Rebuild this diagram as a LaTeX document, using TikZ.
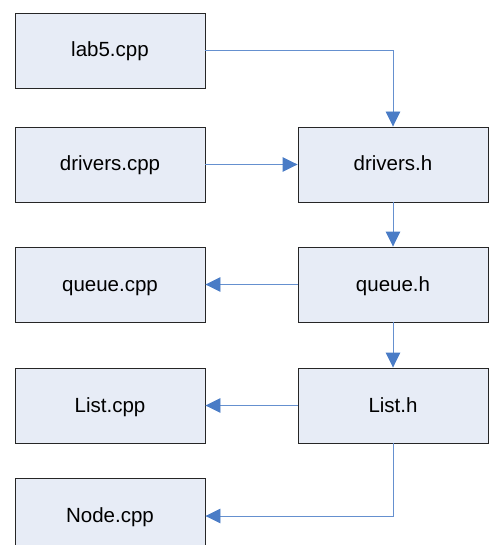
\documentclass[tikz,border=0pt]{standalone}
\usepackage{fontspec}
\setmainfont{Liberation Sans}
\usetikzlibrary{arrows.meta,positioning}
\definecolor{boxfill}{HTML}{E7ECF6}
\definecolor{linkblue}{HTML}{4A7CC6}

\begin{document}
\begin{tikzpicture}[x=1pt, y=-1pt,
    file/.style={draw=black!85, line width=0.9pt, fill=boxfill, minimum width=190pt, minimum height=75pt, inner sep=0pt, text height=15pt, text depth=2pt, font=\fontsize{20.5}{24}\selectfont},
    link/.style={draw=linkblue!85, line width=0.9pt, -{Triangle[length=15pt,width=14.5pt,color=linkblue]}}]
    \useasboundingbox (0,0) rectangle (489,545);

    % Left column: source files
        \node[file] (lab5) at (110,50.5) {lab5.cpp};
        \node[file] (driverscpp) at (110,164.5) {drivers.cpp};
        \node[file] (queuecpp) at (110,284.5) {queue.cpp};
        \node[file] (listcpp) at (110,405.5) {List.cpp};
        \node[file] (nodecpp) at (110,516) {Node.cpp};

        % Right column: headers
        \node[file] (driversh) at (393,164.5) {drivers.h};
        \node[file] (queueh) at (393,284.5) {queue.h};
        \node[file] (listh) at (393,405.5) {List.h};

        % Connectors
        \draw[link] (lab5.east) -| (driversh.north);
        \draw[link] (driverscpp) -- (driversh);
        \draw[link] (driversh) -- (queueh);
        \draw[link] (queueh) -- (queuecpp);
        \draw[link] (queueh) -- (listh);
        \draw[link] (listh) -- (listcpp);
        \draw[link] (listh.south) |- (nodecpp.east);
\end{tikzpicture}
\end{document}
